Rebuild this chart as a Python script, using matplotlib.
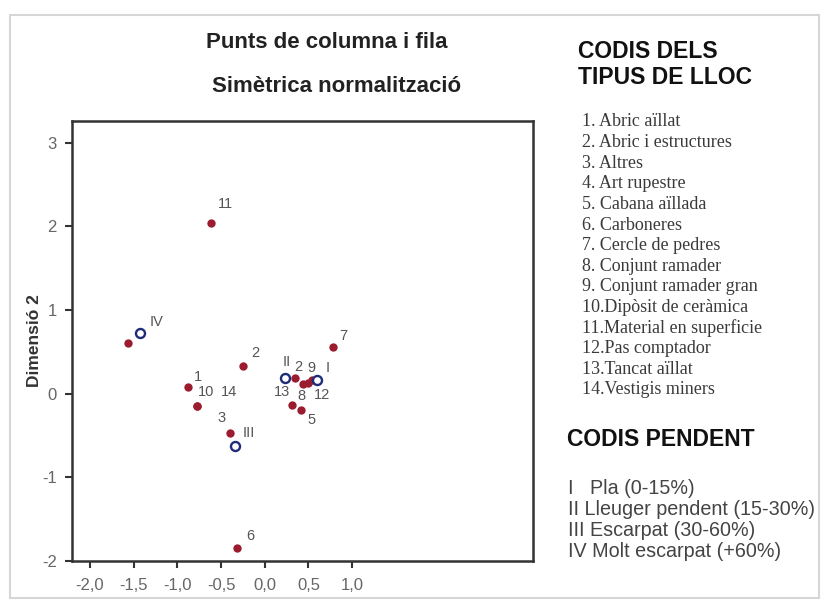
import matplotlib
matplotlib.use("Agg")
import matplotlib.pyplot as plt
from matplotlib.patches import Rectangle

# Punts de fila (tipus de lloc) - coordenades dimensió 1 / dimensió 2
row_labels = ["1", "2", "3", "", "5", "6", "7", "8", "9", "10", "11", "12", "13", "14", "2"]
row_x = [-0.88, -0.25, -0.40, -1.57, 0.42, -0.32, 0.78, 0.44, 0.50, -0.78, -0.61, 0.54, 0.31, -0.78, 0.35]
row_y = [0.08, 0.33, -0.47, 0.61, -0.20, -1.84, 0.56, 0.11, 0.13, -0.15, 2.04, 0.16, -0.14, -0.15, 0.19]
# desplaçament de les etiquetes en píxels (dx, dy)
row_off = [(10, 10), (12, 13), (-8, 15), (0, 0), (10, -10), (14, 12), (10, 11), (-2, -12),
           (3, 15), (9, 14), (14, 19), (10, -15), (-10, 13), (32, 14), (3, 11)]

# Punts de columna (pendent)
col_labels = ["I", "II", "III", "IV"]
col_x = [0.60, 0.23, -0.34, -1.43]
col_y = [0.16, 0.19, -0.62, 0.73]
col_off = [(11, 12), (2, 16), (14, 13), (17, 11)]

xticks = [-2.0, -1.5, -1.0, -0.5, 0.0, 0.5, 1.0]
yticks = [-2, -1, 0, 1, 2, 3]

tipus = ["1. Abric aïllat", "2. Abric i estructures", "3. Altres", "4. Art rupestre",
         "5. Cabana aïllada", "6. Carboneres", "7. Cercle de pedres", "8. Conjunt ramader",
         "9. Conjunt ramader gran", "10.Dipòsit de ceràmica", "11.Material en superficie",
         "12.Pas comptador", "13.Tancat aïllat", "14.Vestigis miners"]
pendent = ["I   Pla (0-15%)", "II Lleuger pendent (15-30%)", "III Escarpat (30-60%)",
           "IV Molt escarpat (+60%)"]

W, H = 824, 601
plt.rcParams["font.family"] = ["Liberation Sans", "DejaVu Sans"]
fig = plt.figure(figsize=(W / 100, H / 100), dpi=100)

# marc exterior
fig.patches.append(Rectangle((10 / W, 3 / H), 809 / W, 583 / H, transform=fig.transFigure,
                             fill=False, edgecolor="#d6d6d6", linewidth=1.5))

ax = fig.add_axes([72 / W, 1 - 561 / H, 461 / W, 440 / H])
ax.set_xlim(-2.206, 3.07)
ax.set_ylim(-2.0, 3.26)

red = "#9a1c2e"
navy = "#1f2d78"
ax.plot(row_x, row_y, "o", color=red, markersize=6, markeredgewidth=0)
ax.plot(col_x, col_y, "o", markerfacecolor="white", markeredgecolor=navy,
        markersize=6.5, markeredgewidth=1.7)

for lab, x, y, (dx, dy) in zip(row_labels + col_labels, row_x + col_x, row_y + col_y,
                               row_off + col_off):
    if lab:
        ax.annotate(lab, (x, y), xytext=(dx, dy), textcoords="offset pixels",
                    ha="center", va="center", fontsize=10.5, color="#555555")

ax.set_xticks(xticks)
ax.set_xticklabels([f"{v:.1f}".replace(".", ",") for v in xticks])
ax.set_yticks(yticks)
ax.set_yticklabels([str(v) for v in yticks])
ax.tick_params(direction="out", length=5, width=1.5, color="#333333",
               labelsize=12, labelcolor="#666666")
ax.tick_params(axis="x", pad=7)
ax.tick_params(axis="y", pad=6)
for sp in ax.spines.values():
    sp.set_linewidth(1.8)
    sp.set_color("#333333")

ax.set_ylabel("Dimensió 2", fontsize=12.5, fontweight="bold", color="#333333", labelpad=0)

fig.text(327 / W, 1 - 42 / H, "Punts de columna i fila", ha="center", va="center",
         fontsize=16, fontweight="bold", color="#222222")
fig.text(337 / W, 1 - 87 / H, "Simètrica normalització", ha="center", va="center",
         fontsize=16, fontweight="bold", color="#222222")

fig.text(578 / W, 1 - 52 / H, "CODIS DELS", ha="left", va="center",
         fontsize=16.5, fontweight="bold", color="#111111")
fig.text(578 / W, 1 - 77 / H, "TIPUS DE LLOC", ha="left", va="center",
         fontsize=16.5, fontweight="bold", color="#111111")
for i, t in enumerate(tipus):
    fig.text(582 / W, 1 - (122 + i * 20.6) / H, t, ha="left", va="center",
             fontsize=13, family=["Liberation Serif", "DejaVu Serif"], color="#3a3a3a")

fig.text(567 / W, 1 - 439 / H, "CODIS PENDENT", ha="left", va="center",
         fontsize=16.5, fontweight="bold", color="#111111")
for i, t in enumerate(pendent):
    fig.text(568 / W, 1 - (488 + i * 21.3) / H, t, ha="left", va="center",
             fontsize=14.2, color="#444444")

fig.savefig("out.png", dpi=100)
